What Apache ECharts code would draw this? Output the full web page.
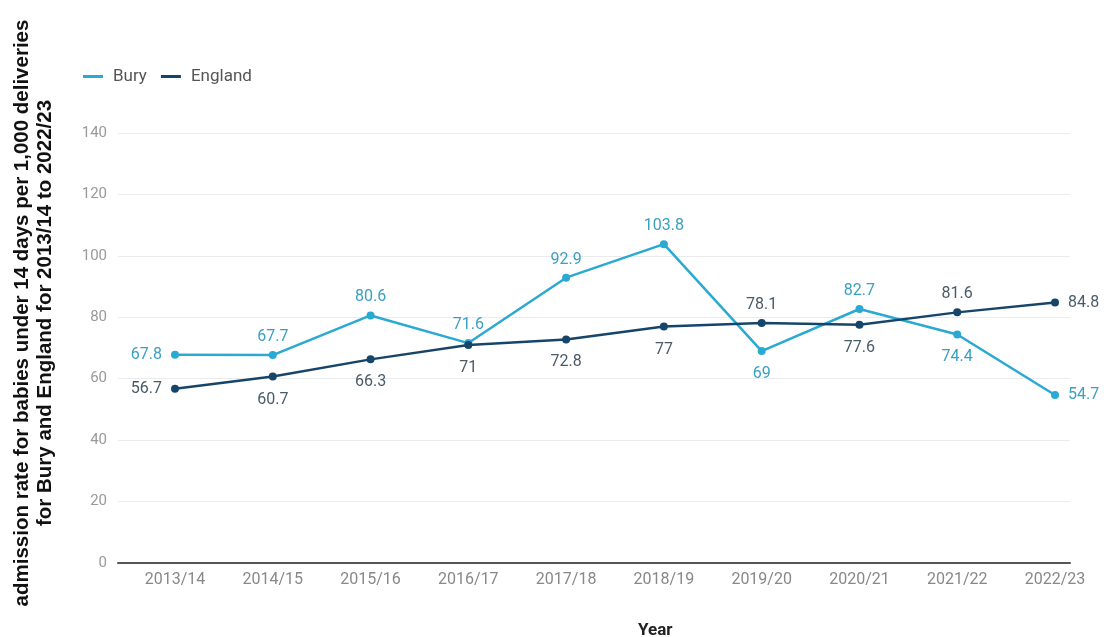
<!DOCTYPE html>
<html>
<head>
<meta charset="utf-8">
<script src="https://cdn.jsdelivr.net/npm/echarts@6/dist/echarts.min.js"></script>
<style>
html,body{margin:0;padding:0;background:#fff;}
#chart{width:1104px;height:637px;}
</style>
</head>
<body>
<div id="chart"></div>
<script>
// Admission rates for babies under 14 days per 1,000 deliveries
const years = ['2013/14','2014/15','2015/16','2016/17','2017/18','2018/19','2019/20','2020/21','2021/22','2022/23'];
const bury = [67.8, 67.7, 80.6, 71.6, 92.9, 103.8, 69, 82.7, 74.4, 54.7];
const england = [56.7, 60.7, 66.3, 71, 72.8, 77, 78.1, 77.6, 81.6, 84.8];
const buryLabelPos = ['left','top','top','top','top','top','bottom','top','bottom','right'];
const englandLabelPos = ['left','bottom','bottom','bottom','bottom','bottom','top','bottom','top','right'];
const yTicks = [0, 20, 40, 60, 80, 100, 120, 140];

const BURY_COLOR = '#2aa9d2';
const ENG_COLOR = '#17456a';

function withLabels(values, positions, color) {
  return values.map((v, i) => ({
    value: v,
    label: {
      position: positions[i],
      distance: positions[i] === 'bottom' ? 11 : (positions[i] === 'top' ? 6 : 9),
      color: color
    }
  }));
}

const chart = echarts.init(document.getElementById('chart'));
chart.setOption({
  animation: false,
  backgroundColor: '#ffffff',
  textStyle: { fontFamily: 'Roboto, "Noto Sans", sans-serif' },
  legend: {
    left: 78, top: 63,
    icon: 'rect', itemWidth: 20, itemHeight: 3, itemGap: 14,
    textStyle: { color: '#555', fontSize: 17, padding: [0, 0, 0, 5] },
    data: [
      { name: 'Bury', itemStyle: { color: BURY_COLOR } },
      { name: 'England', itemStyle: { color: ENG_COLOR } }
    ]
  },
  grid: [
    // frame grid: axis line, gridlines, y labels
    { left: 118, right: 34, top: 133, bottom: 74 },
    // data grid: category centres
    { left: 175, right: 49, top: 133, bottom: 74 }
  ],
  xAxis: [
    { gridIndex: 0, type: 'category', data: years.map(() => ''), show: true,
      axisLine: { lineStyle: { color: '#555', width: 2 } }, axisTick: { show: false },
      axisLabel: { show: false } },
    { gridIndex: 1, type: 'category', data: years, boundaryGap: false,
      axisLine: { show: false }, axisTick: { show: false },
      axisLabel: { color: '#888', fontSize: 16, margin: 9 } }
  ],
  yAxis: [
    { gridIndex: 0, type: 'value', min: yTicks[0], max: yTicks[yTicks.length - 1], interval: 20,
      axisLine: { show: false }, axisTick: { show: false },
      axisLabel: { color: '#999', fontSize: 15, margin: 11 },
      splitLine: { lineStyle: { color: '#ebebeb', width: 1 } } },
    { gridIndex: 1, type: 'value', min: yTicks[0], max: yTicks[yTicks.length - 1], interval: 20,
      show: false }
  ],
  graphic: [
    { type: 'text', left: 638, top: 622,
      style: { text: 'Year', font: 'bold 17px Roboto, sans-serif', fill: '#222' } },
    { type: 'text', x: 34, y: 313, rotation: Math.PI / 2,
      style: { text: 'admission rate for babies under 14 days per 1,000 deliveries\nfor Bury and England for 2013/14 to 2022/23',
        font: 'bold 20.5px "Liberation Sans", Arial, sans-serif', fill: '#111',
        align: 'center', verticalAlign: 'middle', lineHeight: 23 } }
  ],
  series: [
    { name: 'Bury', type: 'line', xAxisIndex: 1, yAxisIndex: 1,
      data: withLabels(bury, buryLabelPos, '#3aa0c0'),
      symbol: 'circle', symbolSize: 8,
      lineStyle: { color: BURY_COLOR, width: 2.5 }, itemStyle: { color: BURY_COLOR },
      label: { show: true, fontSize: 16 }, z: 3 },
    { name: 'England', type: 'line', xAxisIndex: 1, yAxisIndex: 1,
      data: withLabels(england, englandLabelPos, '#4a5b68'),
      symbol: 'circle', symbolSize: 8,
      lineStyle: { color: ENG_COLOR, width: 2.5 }, itemStyle: { color: ENG_COLOR },
      label: { show: true, fontSize: 16 }, z: 4 }
  ]
});
</script>
</body>
</html>
